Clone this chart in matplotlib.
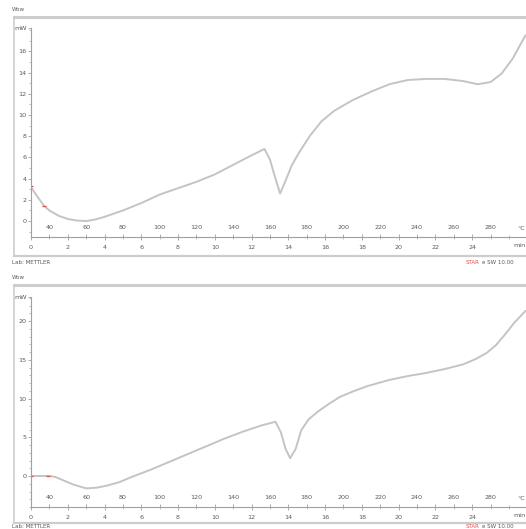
"""
Dos curvas DSC (METTLER) — flujo de calor vs tiempo / temperatura.
Rampa de 10 K/min desde 30 °C.
"""

import matplotlib.pyplot as plt
from matplotlib.lines import Line2D
from matplotlib.ticker import MultipleLocator, FixedLocator
import matplotlib.transforms as mtransforms

# ── Datos ─────────────────────────────────────────────────
# Curva superior (mW vs min)
tiempo_1 = [0, 0.35, 0.7, 1.0, 1.5, 2.0, 2.5, 3.0, 3.5, 4.0, 5.0, 6.0, 7.0, 8.0,
            9.0, 10.0, 11.0, 12.0, 12.7, 13.0, 13.3, 13.55, 13.8, 14.2,
            14.6, 15.2, 15.8, 16.5, 17.5, 18.5, 19.5, 20.5, 21.5, 22.5,
            23.5, 24.3, 25.0, 25.6, 26.2, 26.9]
flujo_1 = [3.2, 2.3, 1.45, 1.0, 0.5, 0.2, 0.05, 0.0, 0.15, 0.4, 1.0, 1.7, 2.5, 3.1,
           3.7, 4.4, 5.3, 6.2, 6.8, 5.8, 4.0, 2.6, 3.6, 5.3,
           6.5, 8.1, 9.4, 10.4, 11.4, 12.2, 12.9, 13.3, 13.4, 13.4,
           13.2, 12.9, 13.1, 13.9, 15.3, 17.5]

# Curva inferior (mW vs min)
tiempo_2 = [0, 0.5, 1.0, 1.3, 1.8, 2.3, 3.0, 3.6, 4.2, 4.8, 5.5, 6.5, 7.5,
            8.5, 9.5, 10.5, 11.5, 12.5, 13.3, 13.6, 13.85, 14.1, 14.4,
            14.7, 15.1, 15.6, 16.2, 16.8, 17.5, 18.3, 19.5, 20.5, 21.5,
            22.5, 23.5, 24.2, 24.8, 25.3, 25.8, 26.3, 26.9]
flujo_2 = [0.0, 0.0, 0.0, -0.1, -0.6, -1.1, -1.6, -1.5, -1.2, -0.8, -0.1, 0.8, 1.8,
           2.8, 3.8, 4.8, 5.7, 6.5, 7.0, 5.6, 3.5, 2.3, 3.5,
           5.9, 7.3, 8.3, 9.3, 10.2, 10.9, 11.6, 12.4, 12.9, 13.3,
           13.8, 14.4, 15.1, 15.9, 16.9, 18.3, 19.8, 21.3]

# Marcas rojas de evaluación al inicio
marcas_t1 = [0.0, 0.7]
marcas_y1 = [3.3, 1.45]
marcas_t2 = [0.0, 0.9]
marcas_y2 = [0.0, 0.0]

temp_ticks = [40, 60, 80, 100, 120, 140, 160, 180, 200, 220, 240, 260, 280]
time_ticks = [0, 2, 4, 6, 8, 10, 12, 14, 16, 18, 20, 22, 24]
y_ticks_1 = [0, 2, 4, 6, 8, 10, 12, 14, 16]
y_ticks_2 = [0, 5, 10, 15, 20]

T0, RAMPA = 30, 10   # °C, K/min

# ── Estilo ────────────────────────────────────────────────
GRIS_TXT = '#5a5a5a'
GRIS_EJE = '#a0a0a0'
GRIS_CURVA = '#c4c4c4'
GRIS_MARCO = '#cdcdcd'
FS = 4.6

fig = plt.figure(figsize=(5.26, 5.29), dpi=100)


def panel(pos, t, y, mt, my, yticks, ylim, frame_top, frame_bot, y_lab):
    ax = fig.add_axes(pos)
    ax.plot(t, y, color=GRIS_CURVA, lw=1.4, solid_capstyle='round')
    ax.plot(mt, my, ls='none', marker='_', color='#e05050', ms=3, mew=0.9)
    ax.set_xlim(0, 26.93)
    ax.set_ylim(*ylim)
    ax.patch.set_visible(False)
    for s in ['top', 'right']:
        ax.spines[s].set_visible(False)
    for s in ['left', 'bottom']:
        ax.spines[s].set_color(GRIS_EJE)
        ax.spines[s].set_linewidth(0.8)

    # eje y: última marca = "mW"
    ax.yaxis.set_major_locator(FixedLocator(yticks + [ylim[1]]))
    ax.set_yticklabels([str(v) for v in yticks] + ['mW'])
    ax.yaxis.set_minor_locator(MultipleLocator(1))
    ax.tick_params(axis='y', which='major', length=2, width=0.6, pad=1,
                   color=GRIS_EJE, labelsize=FS, labelcolor=GRIS_TXT)
    ax.tick_params(axis='y', which='minor', length=1.2, width=0.5,
                   color=GRIS_EJE)

    # eje x: tiempo abajo
    ax.xaxis.set_major_locator(FixedLocator(time_ticks))
    ax.xaxis.set_minor_locator(MultipleLocator(1))
    ax.tick_params(axis='x', which='major', direction='inout', length=4,
                   width=0.6, pad=4, color=GRIS_EJE, labelsize=FS,
                   labelcolor=GRIS_TXT)
    ax.tick_params(axis='x', which='minor', direction='inout', length=3,
                   width=0.5, color=GRIS_EJE)

    # temperatura arriba de la línea del eje
    sec = ax.secondary_xaxis(0.0, functions=(lambda m: T0 + RAMPA * m,
                                             lambda T: (T - T0) / RAMPA))
    sec.set_alignment('top')
    sec.set_xticks(temp_ticks)
    for s in sec.spines.values():
        s.set_visible(False)
    sec.tick_params(axis='x', direction='out', length=2, width=0.5, pad=3,
                    color=GRIS_EJE, labelsize=FS, labelcolor=GRIS_TXT)

    # unidades al final del eje
    tr = mtransforms.blended_transform_factory(ax.transData, ax.transAxes)
    ax.text(26.9, -0.042, 'min', transform=tr, fontsize=FS, color=GRIS_TXT,
            ha='right', va='center')
    ax.text(26.9, 0.042, '°C', transform=tr, fontsize=FS, color=GRIS_TXT,
            ha='right', va='center')

    # marco exterior del panel
    x0 = 14 / 526
    fig.add_artist(Line2D([x0, 1], [frame_top, frame_top], color=GRIS_MARCO,
                          lw=2.2, transform=fig.transFigure))
    fig.add_artist(Line2D([x0, x0], [frame_bot, frame_top], color=GRIS_MARCO,
                          lw=1.2, transform=fig.transFigure))
    fig.add_artist(Line2D([x0, 1], [frame_bot, frame_bot], color=GRIS_MARCO,
                          lw=1.6, transform=fig.transFigure))
    fig.text(0.023, frame_top + 0.014, 'Wow', fontsize=FS - 0.6,
             color=GRIS_TXT, ha='left', va='center')
    fig.text(0.023, y_lab, 'Lab: METTLER', fontsize=FS - 0.6,
             color=GRIS_TXT, ha='left', va='bottom')
    fig.text(0.885, y_lab, 'STAR', fontsize=FS - 0.6,
             color='#e05050', ha='left', va='bottom')
    fig.text(0.917, y_lab, 'e SW 10.00', fontsize=FS - 0.6,
             color=GRIS_TXT, ha='left', va='bottom')
    return ax


ax1 = panel([31 / 526, 1 - 237 / 529, 1 - 31 / 526, 209 / 529],
            tiempo_1, flujo_1, marcas_t1, marcas_y1, y_ticks_1, (-1.5, 18.2),
            1 - 17 / 529, 1 - 256 / 529, 1 - 265 / 529)
ax2 = panel([31 / 526, 1 - 507 / 529, 1 - 31 / 526, 210 / 529],
            tiempo_2, flujo_2, marcas_t2, marcas_y2, y_ticks_2, (-4.0, 23.1),
            1 - 285 / 529, 1 - 523 / 529, 0.5 / 529)

fig.savefig('out.png', dpi=100)
